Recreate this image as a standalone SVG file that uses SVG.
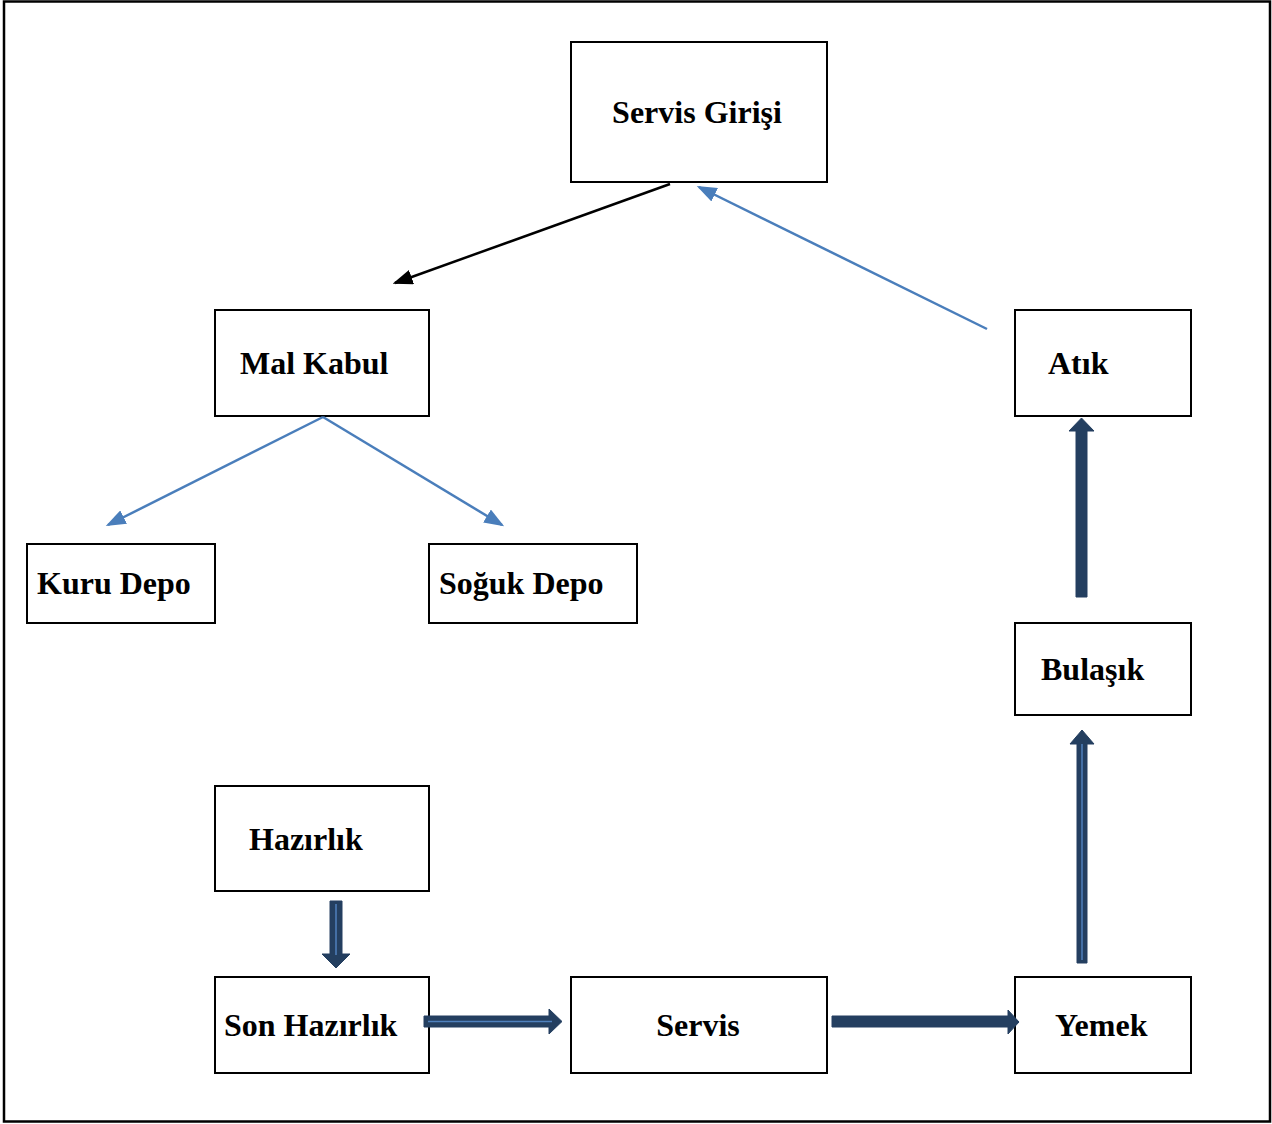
<svg xmlns="http://www.w3.org/2000/svg" width="1272" height="1124" viewBox="0 0 1272 1124">
<style>
.box{fill:#fff;stroke:#000;stroke-width:2}
.t{font-family:"Liberation Serif","Times New Roman",serif;font-weight:bold;font-size:32px;fill:#000}
.blk{stroke:#000;stroke-width:2.5;fill:none}
.blu{stroke:#4a7ebb;stroke-width:2.5;fill:none}
.fat{fill:#243f60;stroke:#243f60;stroke-width:1}
.hl{stroke:#4f81bd;stroke-width:1.5;fill:none}
</style>
<defs>
<marker id="ak" markerWidth="8" markerHeight="6" refX="7" refY="3" orient="auto" markerUnits="strokeWidth"><path d="M0,0 L8,3 L0,6 z" fill="#000"/></marker>
<marker id="ab" markerWidth="8" markerHeight="6" refX="7" refY="3" orient="auto" markerUnits="strokeWidth"><path d="M0,0 L8,3 L0,6 z" fill="#4a7ebb"/></marker>
</defs>
<rect x="4" y="1.5" width="1266" height="1120" fill="#fff" stroke="#000" stroke-width="2.5"/>
<g id="servis-girisi"><rect class="box" x="571" y="42" width="256" height="140"/><text class="t" x="697" y="123" text-anchor="middle">Servis Girişi</text></g>
<g id="mal-kabul"><rect class="box" x="215" y="310" width="214" height="106"/><text class="t" x="240" y="374">Mal Kabul</text></g>
<g id="atik"><rect class="box" x="1015" y="310" width="176" height="106"/><text class="t" x="1048" y="374">Atık</text></g>
<g id="kuru-depo"><rect class="box" x="27" y="544" width="188" height="79"/><text class="t" x="37" y="594">Kuru Depo</text></g>
<g id="soguk-depo"><rect class="box" x="429" y="544" width="208" height="79"/><text class="t" x="439" y="594">Soğuk Depo</text></g>
<g id="bulasik"><rect class="box" x="1015" y="623" width="176" height="92"/><text class="t" x="1041" y="680">Bulaşık</text></g>
<g id="hazirlik"><rect class="box" x="215" y="786" width="214" height="105"/><text class="t" x="249" y="850">Hazırlık</text></g>
<g id="son-hazirlik"><rect class="box" x="215" y="977" width="214" height="96"/><text class="t" x="224" y="1036">Son Hazırlık</text></g>
<g id="servis"><rect class="box" x="571" y="977" width="256" height="96"/><text class="t" x="698" y="1036" text-anchor="middle">Servis</text></g>
<g id="yemek"><rect class="box" x="1015" y="977" width="176" height="96"/><text class="t" x="1055" y="1036">Yemek</text></g>
<g id="connectors">
<line class="blk" x1="670" y1="184" x2="395" y2="283" marker-end="url(#ak)"/>
<line class="blu" x1="987" y1="329" x2="699" y2="187" marker-end="url(#ab)"/>
<line class="blu" x1="323" y1="417" x2="108" y2="525" marker-end="url(#ab)"/>
<line class="blu" x1="323" y1="417" x2="502" y2="525" marker-end="url(#ab)"/>
<g id="a-hz-son"><path class="fat" d="M330,901 H342 V954 H350 L336,968 L322,954 H330 Z"/><line class="hl" x1="336" y1="904" x2="336" y2="955"/></g>
<g id="a-son-servis"><path class="fat" d="M424,1016 H549 V1009 L562,1021.5 L549,1034 V1027 H424 Z"/><line class="hl" x1="428" y1="1021.5" x2="552" y2="1021.5"/></g>
<g id="a-servis-yemek"><path class="fat" d="M832,1016 H1008 V1010 L1019,1022 L1008,1034 V1027 H832 Z"/></g>
<g id="a-yemek-bulasik"><path class="fat" d="M1077,963 V744 H1070 L1082,730 L1094,744 H1087 V963 Z"/><line class="hl" x1="1082" y1="744" x2="1082" y2="960"/></g>
<g id="a-bulasik-atik"><path class="fat" d="M1076,597 V431 H1069 L1081.5,418 L1094,431 H1087 V597 Z"/></g>
</g>
</svg>
